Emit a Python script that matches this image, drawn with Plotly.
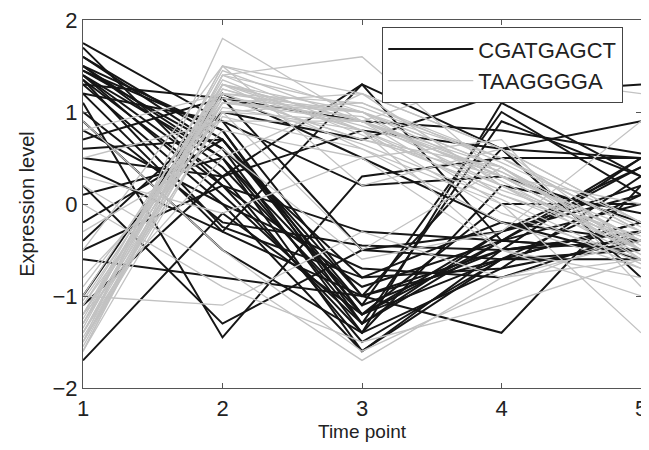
import plotly.graph_objects as go

time_points = [1, 2, 3, 4, 5]

# CGATGAGCT profiles (black)
cgatgagct = [
    [1.75, 0.9, -1.0, -0.5, -0.3],
    [1.6, 0.7, -1.2, -0.6, 0.1],
    [1.5, 0.8, -1.3, -0.4, -0.5],
    [1.45, 0.6, -1.4, -0.7, 0.3],
    [1.4, 0.5, -1.1, -0.5, 0.5],
    [1.4, 0.3, -1.5, -0.6, -0.2],
    [1.35, 0.2, -0.9, -0.4, 0.0],
    [1.3, 0.0, -1.6, -0.5, -0.4],
    [1.3, 1.15, 0.9, 0.8, 0.55],
    [1.5, 0.4, -1.2, -0.3, 0.2],
    [1.2, -0.3, -1.0, -0.6, -0.6],
    [1.0, -0.2, -0.45, -0.5, -0.3],
    [0.9, -0.5, -1.4, 1.1, 0.3],
    [0.7, 1.15, -0.5, -0.6, -0.5],
    [0.5, 0.3, 0.8, 0.6, -0.8],
    [0.4, -0.3, 1.3, -0.4, 0.5],
    [0.2, -1.3, -0.5, -0.3, 0.4],
    [0.1, 0.5, -1.3, 0.9, 0.3],
    [-0.2, 0.7, -1.1, 1.0, 0.1],
    [-0.5, 0.2, -0.3, -0.4, -0.5],
    [-0.6, -0.8, -1.0, -1.4, 0.2],
    [-1.0, 1.2, 0.5, -0.2, -0.6],
    [-1.7, -0.1, -1.2, 0.0, 0.0],
    [1.1, -1.45, 0.3, 0.5, 0.5],
    [1.6, 0.6, -0.8, -0.2, -0.4],
    [1.4, 0.1, -1.3, -0.3, 0.1],
    [0.8, 0.0, -0.7, -0.8, -0.3],
    [-0.4, 1.0, 0.7, 1.2, 1.3],
    [1.2, 0.9, 0.2, 0.3, -0.2],
    [1.5, 0.5, -1.6, -0.6, -0.2],
    [1.35, -0.25, -0.8, -0.7, -0.4],
    [0.6, 0.7, -1.0, 0.6, 0.9],
    [-1.1, 0.3, 1.3, 0.6, 0.5],
    [1.7, 0.2, -1.4, 0.2, -0.1],
    [1.45, 0.8, -1.2, -0.4, 0.4],
]

# TAAGGGGA profiles (gray)
taagggga = [
    [-1.5, 1.8, 0.9, 0.3, -0.5],
    [-1.3, 1.5, 1.0, 0.4, -0.4],
    [-1.4, 1.4, 0.8, 0.2, -0.6],
    [-1.2, 1.3, 1.0, 0.5, -0.3],
    [-1.6, 1.3, 0.9, 0.3, -0.5],
    [-1.1, 1.25, 0.8, 0.1, -0.4],
    [-1.5, 1.2, 1.1, 0.5, -0.2],
    [-1.3, 1.2, 0.7, 0.4, -0.6],
    [-1.2, 1.1, 0.9, 0.2, -0.5],
    [-1.4, 1.15, 1.0, 0.3, -0.3],
    [-1.0, 1.3, 0.6, 0.0, -0.7],
    [-1.5, 1.0, 0.9, 0.4, -0.4],
    [-0.9, 1.1, 1.2, 0.6, -0.5],
    [-1.6, 1.4, 1.6, 0.3, -0.5],
    [-1.3, 1.05, 0.8, -0.1, -0.6],
    [-1.2, 1.2, 0.7, 0.3, 0.0],
    [-1.4, 1.3, 0.9, 0.0, -1.4],
    [0.8, 1.2, 1.0, 0.4, -0.5],
    [0.9, -0.5, -1.6, -0.9, -0.3],
    [-1.0, -1.1, -0.3, -0.8, -0.6],
    [0.2, -0.7, -1.7, -0.8, -0.4],
    [-0.5, 1.5, 0.2, 0.6, -0.2],
    [-1.1, 1.0, -0.5, 0.4, -0.5],
    [0.5, 0.9, 0.9, 1.4, 1.2],
    [-1.5, 1.3, 0.8, -0.5, -0.8],
    [-1.2, 0.5, 1.2, 0.2, -0.4],
    [-1.35, 1.4, 1.05, 0.5, -0.3],
    [-1.45, 1.1, 0.95, 0.25, -0.55],
    [-0.8, 0.8, 0.5, 0.7, -0.9],
    [0.0, -0.9, -1.5, -1.1, -0.6],
    [-1.55, 1.25, 0.85, 0.35, -0.45],
    [-1.25, 1.35, 0.75, 0.15, -0.35],
    [-0.3, 0.6, -0.6, -0.3, 0.9],
    [-1.6, 1.0, 1.1, 0.45, -0.25],
    [-1.05, 1.15, 0.65, 0.05, -0.65],
    [0.3, -0.1, 0.5, -0.5, -1.0],
    [-1.3, 1.5, 1.2, 0.6, -0.2],
    [-1.4, 0.95, 0.6, -0.2, -0.7],
    [-1.2, 1.45, 0.9, 0.35, -0.4],
    [-1.5, 1.1, 1.0, 0.1, -0.5],
]

x_ticks = [1, 2, 3, 4, 5]
y_ticks = [-2, -1, 0, 1, 2]

fig = go.Figure()
for i, ys in enumerate(cgatgagct):
    fig.add_trace(go.Scatter(
        x=time_points, y=ys, mode="lines",
        line=dict(color="#161616", width=2),
        name="CGATGAGCT", legendgroup="a", showlegend=(i == 0)))
for i, ys in enumerate(taagggga):
    fig.add_trace(go.Scatter(
        x=time_points, y=ys, mode="lines",
        line=dict(color="#c2c2c2", width=1.3),
        name="TAAGGGGA", legendgroup="b", showlegend=(i == 0)))

axis_common = dict(
    showgrid=False, zeroline=False, showline=True, linecolor="#555",
    linewidth=1.2, mirror="ticks", ticks="inside", ticklen=5,
    tickcolor="#555", tickfont=dict(size=22, color="#222"),
    automargin=False, ticklabeloverflow="allow",
)
fig.update_xaxes(range=[1, 5], tickvals=x_ticks, **axis_common,
                 title=dict(text="Time point", font=dict(size=19, color="#222"), standoff=5))
fig.update_yaxes(range=[-2, 2], tickvals=y_ticks,
                 ticktext=[("\u2212" + str(-v)) if v < 0 else str(v) for v in y_ticks],
                 **axis_common,
                 title=dict(text="Expression level", font=dict(size=20, color="#222"), standoff=12))

fig.update_layout(
    width=641, height=442,
    margin=dict(l=75, r=8, t=12, b=62, autoexpand=False),
    paper_bgcolor="white", plot_bgcolor="white",
    font=dict(family="Liberation Sans, Arial, sans-serif"),
    legend=dict(x=0.536, y=0.981, xanchor="left", yanchor="top",
                bgcolor="white", bordercolor="#444", borderwidth=1.2,
                font=dict(size=22, color="#222"), tracegroupgap=0,
                itemwidth=85),
    showlegend=True,
)

fig.write_html("out.html")
